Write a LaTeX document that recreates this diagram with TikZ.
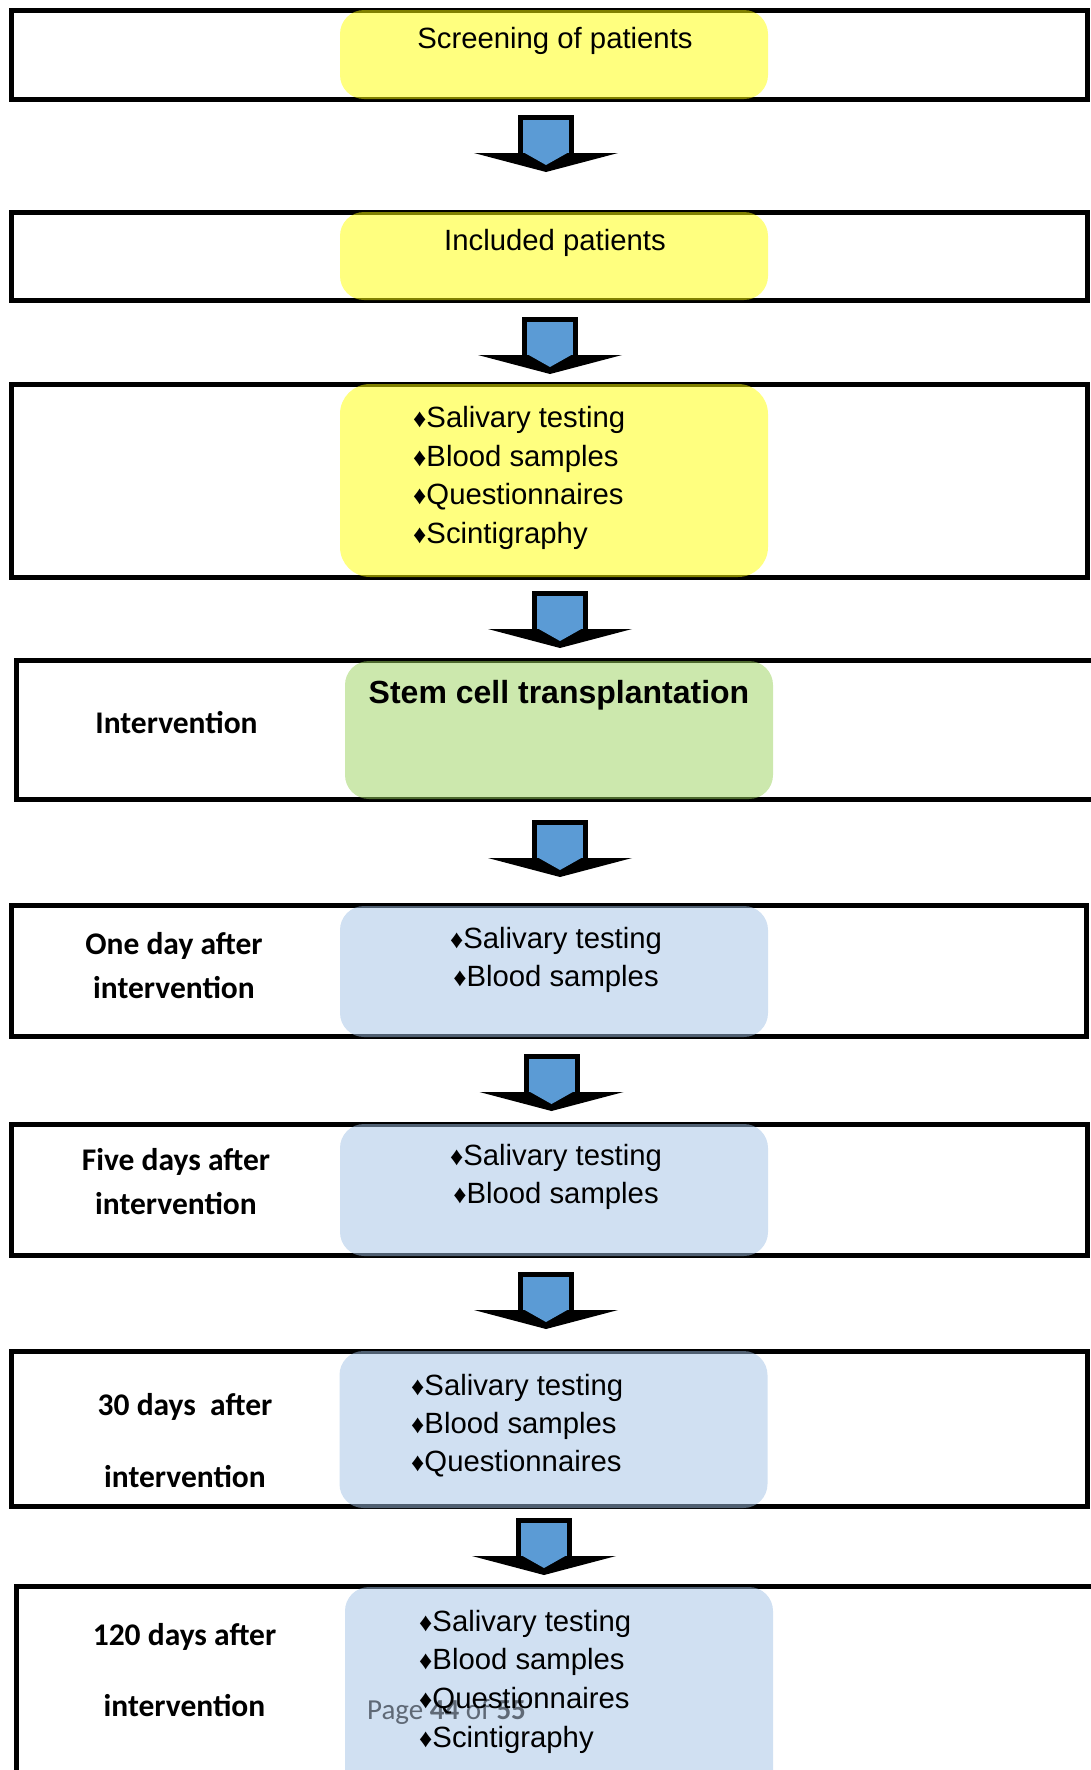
\documentclass[tikz,border=0pt]{standalone}
\usepackage{fontspec}
\setmainfont{Liberation Sans}
\newfontfamily\calibri{Carlito}
\usepackage{tikz}
\usetikzlibrary{positioning}
\definecolor{tileyellow}{RGB}{255,255,0}
\definecolor{tilegreen}{RGB}{153,209,91}
\definecolor{tileblue}{RGB}{161,193,229}
\definecolor{arrowblue}{RGB}{91,155,213}
\definecolor{footgray}{RGB}{95,105,118}
\newcommand{\dmd}{{\fontsize{26}{26}\selectfont ♦}}

\begin{document}
\begin{tikzpicture}[x=1pt,y=-1pt,
    frame/.style={draw,line width=5pt,inner sep=0pt,minimum width=1076pt},
    tile/.style={fill=#1,fill opacity=0.5,rounded corners=24pt,inner sep=0pt,minimum width=428pt},
    txt/.style={font=\fontsize{29.3}{35}\selectfont,anchor=base,inner sep=0pt},
    itm/.style={txt,anchor=base west},
    lbl/.style={font=\calibri\bfseries\fontsize{31.5}{35}\selectfont,anchor=base,inner sep=0pt},
    flowarrow/.pic={
      \fill (-72,38) -- (72,38) -- (0,57) -- cycle;
      \filldraw[fill=arrowblue,line width=5pt] (-25.5,38) |- (25.5,2.5) -- (25.5,38);
      \fill[arrowblue] (-23,37) -- (23,37) -- (0,50) -- cycle;
    }]
  \useasboundingbox (0,0) rectangle (1091,1770);

  \node[frame,minimum height=88.5pt] (f1) at (549.5,54.75) {};
  \node[frame,minimum height=88.5pt] (f2) at (549.5,256.25) {};
  \node[frame,minimum height=193pt] (f3) at (549.5,481) {};
  \node[frame,minimum width=1078.5pt,minimum height=139pt] (f4) at (555.75,730) {};
  \node[frame,minimum width=1074.5pt,minimum height=131pt] (f5) at (548.75,971) {};
  \node[frame,minimum height=131pt] (f6) at (549.5,1190) {};
  \node[frame,minimum height=155pt] (f7) at (549.5,1429) {};
  \node[frame,minimum width=1078.5pt,minimum height=213.5pt] (f8) at (555.75,1693.25) {};

  \node[tile=tileyellow,minimum height=89pt] (y1) at (554,54.5) {};
  \node[tile=tileyellow,minimum height=88pt] (y2) at (554,256) {};
  \node[tile=tileyellow,minimum height=193pt,rounded corners=30pt] (y3) at (554,480.5) {};
  \node[tile=tilegreen,minimum height=138pt] (g4) at (559,730) {};
  \node[tile=tileblue,minimum height=131pt] (b5) at (554,971.5) {};
  \node[tile=tileblue,minimum height=132pt] (b6) at (554,1190) {};
  \node[tile=tileblue,minimum height=157pt] (b7) at (553.5,1429.5) {};
  \node[tile=tileblue,minimum height=240pt] (b8) at (559,1707) {};

  \pic at (546,115) {flowarrow};
  \pic at (550,317) {flowarrow};
  \pic at (560,591) {flowarrow};
  \pic at (560,820) {flowarrow};
  \pic at (551.5,1054) {flowarrow};
  \pic at (546,1272) {flowarrow};
  \pic at (544,1518) {flowarrow};

  \node[txt] (screen) at (555,48) {Screening of patients};
  \node[txt] (incl) at (555,250) {Included patients};

  \node[itm] (b3a) at (413,427) {\dmd Salivary testing};
  \node[itm] (b3b) at (413,466) {\dmd Blood samples};
  \node[itm] (b3c) at (413,504) {\dmd Questionnaires};
  \node[itm] (b3d) at (413,543) {\dmd Scintigraphy};

  \node[txt,font=\bfseries\fontsize{32}{35}\selectfont] (stem) at (559,703) {Stem cell transplantation};
  \node[lbl] (interv) at (176.5,733) {Intervention};

  \node[lbl] (one1) at (174,954) {One day after};
  \node[lbl] (one2) at (174,998) {intervention};
  \node[txt] (b5a) at (556,948) {\dmd Salivary testing};
  \node[txt] (b5b) at (556,986) {\dmd Blood samples};

  \node[lbl] (five1) at (176,1170) {Five days after};
  \node[lbl] (five2) at (176,1214) {intervention};
  \node[txt] (b6a) at (556,1165) {\dmd Salivary testing};
  \node[txt] (b6b) at (556,1203) {\dmd Blood samples};

  \node[lbl] (thirty1) at (185,1415) {30 days\ \ after};
  \node[lbl] (thirty2) at (185,1487) {intervention};
  \node[itm] (b7a) at (411,1395) {\dmd Salivary testing};
  \node[itm] (b7b) at (411,1433) {\dmd Blood samples};
  \node[itm] (b7c) at (411,1471) {\dmd Questionnaires};

  \node[lbl] (hund1) at (184.5,1645) {120 days after};
  \node[lbl] (hund2) at (184.5,1716) {intervention};
  \node[anchor=base west,inner sep=0pt,text=footgray,font=\calibri\fontsize{29}{35}\selectfont] (page) at (367,1719) {Page \textbf{44} of \textbf{55}};
  \node[itm] (b8a) at (419,1631) {\dmd Salivary testing};
  \node[itm] (b8b) at (419,1669) {\dmd Blood samples};
  \node[itm] (b8c) at (419,1708) {\dmd Questionnaires};
  \node[itm] (b8d) at (419,1747) {\dmd Scintigraphy};
\end{tikzpicture}
\end{document}
